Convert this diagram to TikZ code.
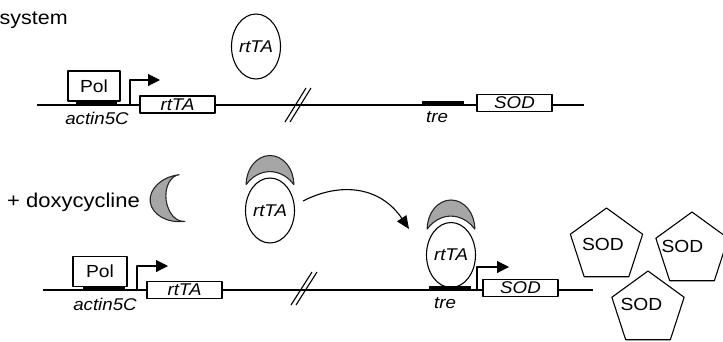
\documentclass[tikz,border=0pt]{standalone}
\usepackage{fontspec}
\setmainfont{Liberation Sans}[FakeStretch=1.1]
\usetikzlibrary{shapes.geometric, arrows.meta}

\tikzset{
  % grey doxycycline cap sitting on top of an rtTA ellipse (origin = ellipse centre)
  doxcap/.pic={
    \path[doxfill] (23.8,-26)
      arc[start angle=0, end angle=-180, x radius=23.8, y radius=29]
      arc[start angle=-138, end angle=-42, x radius=32, y radius=39] -- cycle;
  }
}

\begin{document}
\begin{tikzpicture}[x=1pt, y=-1pt, line join=round,
  dna/.style={line width=1.1pt},
  genebox/.style={draw, fill=white, line width=1.1pt, rectangle, minimum width=75pt,
    minimum height=17pt, inner sep=0pt, font=\fontsize{17}{19}\selectfont\itshape},
  polbox/.style={draw, fill=white, line width=1.1pt, rectangle, minimum width=52pt,
    minimum height=30pt, inner sep=0pt, font=\fontsize{17.5}{19}\selectfont},
  site/.style={fill=black, draw=none, rectangle, minimum height=5pt, inner sep=0pt},
  ital/.style={font=\fontsize{17}{19}\selectfont\itshape, inner sep=0pt},
  protein/.style={draw, fill=white, line width=1.1pt, ellipse, minimum width=49pt,
    minimum height=65pt, inner sep=0pt, font=\fontsize{17}{19}\selectfont\itshape},
  product/.style={draw, fill=white, line width=1.1pt, regular polygon, regular polygon sides=5,
    minimum size=76pt, inner sep=0pt},
  prodtext/.style={font=\fontsize{17.5}{19}\selectfont, inner sep=0pt},
  tss/.style={line width=1.1pt, -{Triangle[length=12pt, width=12pt]}},
  brk/.style={line width=1.1pt},
  doxfill/.style={fill=black!35, draw=black!85, line width=1.1pt},
  movearrow/.style={line width=1.1pt, -{Triangle[length=13pt, width=11pt]}},
]
\useasboundingbox (0,0) rectangle (723,341);

% ---------------- without doxycycline ----------------
\node[anchor=base west, inner sep=0pt, font=\fontsize{19.5}{22}\selectfont] (title) at (-0.5,24) {system};

\coordinate (r1w) at (37,105);
\coordinate (r1e) at (584,105);
\draw[dna] (r1w) -- (r1e);

\node[polbox] (pol1) at (94,86) {Pol};
\node[site, minimum width=41pt] (act1) at (96.5,103.5) {};
\node[ital, anchor=base] (act1lab) at (97,124.5) {actin5C};
\coordinate (tss1a) at (130,105);
\coordinate (tss1b) at (160,80);
\draw[tss] (tss1a) |- (tss1b);
\node[genebox] (rt1) at (177.5,104.5) {rtTA};

\node[protein] (tf1) at (256,46.5) {rtTA};

\draw[brk] (285,122) -- (306,88);
\draw[brk] (290,122) -- (311,88);

\node[site, minimum width=42pt] (tre1) at (443,103) {};
\node[ital, anchor=base] (tre1lab) at (437,122) {tre};
\node[genebox] (sod1) at (514.5,103) {SOD};

% ---------------- with doxycycline ----------------
\node[anchor=base west, inner sep=0pt, font=\fontsize{20}{24}\selectfont] (dox) at (7,207) {+ doxycycline};

% free doxycycline
\path[doxfill, rotate around={7:(182,198)}] (182,174.5)
  arc[start angle=-90, end angle=-270, x radius=32, y radius=23.5]
  arc[start angle=90, end angle=270, x radius=16, y radius=23.5] -- cycle;

% rtTA with bound doxycycline
\node[protein] (tf2) at (270,210.5) {rtTA};
\pic at (tf2.center) {doxcap};

\coordinate (movefrom) at (303,201);
\coordinate (moveto) at (409,229);
\draw[movearrow] (movefrom) .. controls (340,182) and (380,186) .. (moveto);

\coordinate (r2w) at (43,290);
\coordinate (r2e) at (593,290);
\draw[dna] (r2w) -- (r2e);

\node[polbox, minimum width=54pt] (pol2) at (100,271.5) {Pol};
\node[site, minimum width=42pt] (act2) at (104,288.5) {};
\node[ital, anchor=base] (act2lab) at (105,310) {actin5C};
\coordinate (tss2a) at (137,290);
\coordinate (tss2b) at (168,266);
\draw[tss] (tss2a) |- (tss2b);
\node[genebox] (rt2) at (184.5,290) {rtTA};

\draw[brk] (291,305) -- (312,272);
\draw[brk] (296,305) -- (317,272);

\node[protein] (tf3) at (451,255) {rtTA};
\pic at (tf3.center) {doxcap};
\node[site, minimum width=42pt] (tre2) at (450,288.5) {};
\node[ital, anchor=base] (tre2lab) at (445,308.5) {tre};
\coordinate (tss3a) at (477,290);
\coordinate (tss3b) at (509,267);
\draw[tss] (tss3a) |- (tss3b);
\node[genebox] (sod2) at (520.5,288) {SOD};

% SOD protein produced
\node[product] (p1) at (606.5,246) {};
\node[product] (p2) at (692,250) {};
\node[product] (p3) at (648,309) {};
\node[prodtext] (p1lab) at (603,244.5) {SOD};
\node[prodtext] (p2lab) at (682.5,246) {SOD};
\node[prodtext] (p3lab) at (641.5,304.5) {SOD};
\end{tikzpicture}
\end{document}
